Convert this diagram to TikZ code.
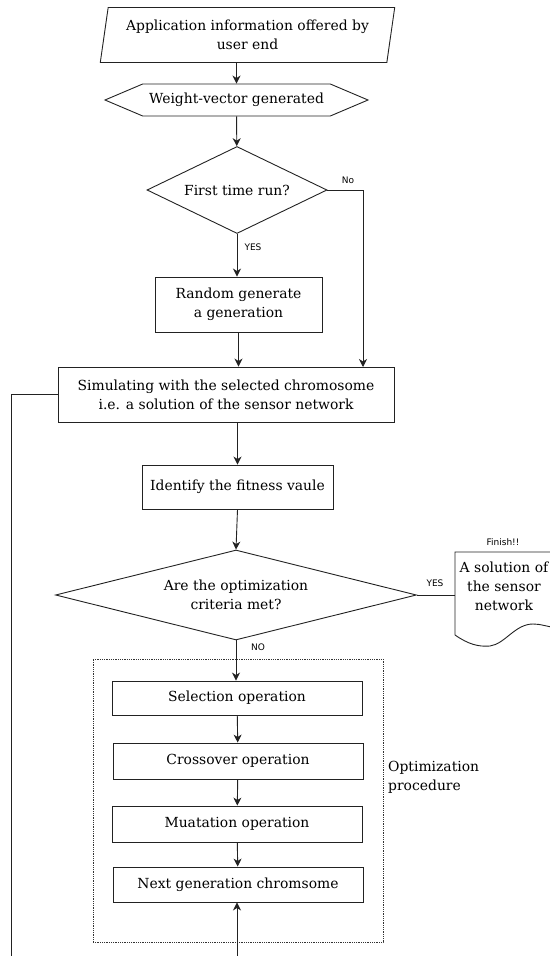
\documentclass[tikz,border=0pt]{standalone}
\usepackage{fontspec}
\setmainfont{DejaVu Serif}
\newfontfamily\lblfont{DejaVu Sans}
\usepackage{tikz}
\usetikzlibrary{arrows.meta, positioning, shapes.geometric, shapes.symbols}
\definecolor{edgegray}{HTML}{222222}
\tikzset{
  flowtext/.style={font=\fontsize{13.9}{19}\selectfont,align=center,inner sep=0pt},
  stepbox/.style={flowtext,rectangle,draw=edgegray,line width=0.9pt},
  ionode/.style={stepbox,trapezium,trapezium left angle=77,trapezium right angle=103,
    trapezium stretches=true},
  prepnode/.style={stepbox,signal,signal to=west and east,signal pointer angle=46},
  decnode/.style={stepbox,diamond},
  optframe/.style={draw=black!80,densely dotted,line width=0.8pt},
  flowline/.style={line width=0.9pt,edgegray},
  flowarr/.style={flowline,-{Stealth[length=8pt,width=8pt,inset=2.5pt]}},
  tinylbl/.style={font=\lblfont\fontsize{9}{10}\selectfont,inner sep=0pt},
}

\begin{document}
\begin{tikzpicture}[x=1pt,y=-1pt]
  \useasboundingbox (0,0) rectangle (549,956);
  \node[ionode,minimum width=295,minimum height=55] (nApp) at (247.5,35) {Application information offered by\\user end};
  \node[prepnode,minimum width=263,minimum height=32] (nWeight) at (236.5,100) {Weight-vector generated};
  \node[decnode,aspect=2.07,minimum width=180,minimum height=87] (nFirst) at (237,190) {First time run?};
  \node[stepbox,minimum width=167,minimum height=55] (nRand) at (238.5,304.5) {Random generate\\a generation};
  \node[stepbox,minimum width=336,minimum height=55] (nSim) at (226,394.5) {Simulating with the selected chromosome\\i.e. a solution of the sensor network};
  \node[stepbox,minimum width=191,minimum height=44] (nFit) at (237.5,487) {Identify the fitness vaule};
  \node[decnode,aspect=4,minimum width=361,minimum height=90] (nCrit) at (236,595) {Are the optimization\\criteria met?};
  \node[stepbox,minimum width=250,minimum height=34] (nSel) at (237,698) {Selection operation};
  \node[stepbox,minimum width=250,minimum height=36] (nCross) at (238,761) {Crossover operation};
  \node[stepbox,minimum width=250,minimum height=36] (nMut) at (237,824) {Muatation operation};
  \node[stepbox,minimum width=250,minimum height=35] (nNext) at (238,884.5) {Next generation chromsome};
  \node[optframe,minimum width=290,minimum height=283] (nOpt) at (238,800.5) {};
  \node[flowtext,align=left,anchor=west] (nOptLbl) at (388,777) {Optimization\\procedure};
  % finish document
  \node[flowtext,minimum width=98] (nSol) at (504,586) {A solution of\\the sensor\\network};
  \draw[flowline] (455,635) -- (455,552) -- (560,552) -- (560,629)
    .. controls (546,626) and (540,624) .. (533,624)
    .. controls (515,624) and (505,644) .. (490,646)
    .. controls (478,647) and (468,644) .. (455,635);
  \node[tinylbl] (lFinish) at (503,542) {Finish!!};
  \coordinate (cNo) at (363,367);
  \coordinate (cLoopL) at (11,956);
  \coordinate (cLoopB) at (237,956);
  \draw[flowarr] (nApp.south -| nWeight.north) -- (nWeight.north);
  \draw[flowarr] (nWeight) -- (nFirst);
  \draw[flowarr] (nFirst) -- (nRand.north -| nFirst.south);
  \draw[flowarr] (nFirst.east) -| (cNo);
  \draw[flowarr] (nRand.south) -- (nRand.south |- nSim.north);
  \draw[flowarr] (nSim.south -| nFit.north) -- (nFit.north);
  \draw[flowarr] (nFit.south) -- (nCrit.north);
  \draw[flowline] (nCrit.east) -- (nCrit.east -| nSol.west);
  \draw[flowarr] (nCrit.south) -- (nSel.north -| nCrit.south);
  \draw[flowarr] (nSel) -- (nCross);
  \draw[flowarr] (nCross) -- (nMut);
  \draw[flowarr] (nMut) -- (nNext);
  \draw[flowarr] (cLoopB) -- (nNext.south -| cLoopB);
  \draw[flowline] (nSim.west) -| (cLoopL);
  \node[tinylbl] (lNo) at (348,180) {No};
  \node[tinylbl] (lYes) at (253,247) {YES};
  \node[tinylbl] (lYes2) at (435,583) {YES};
  \node[tinylbl] (lNoCrit) at (258,647) {NO};
\end{tikzpicture}
\end{document}
